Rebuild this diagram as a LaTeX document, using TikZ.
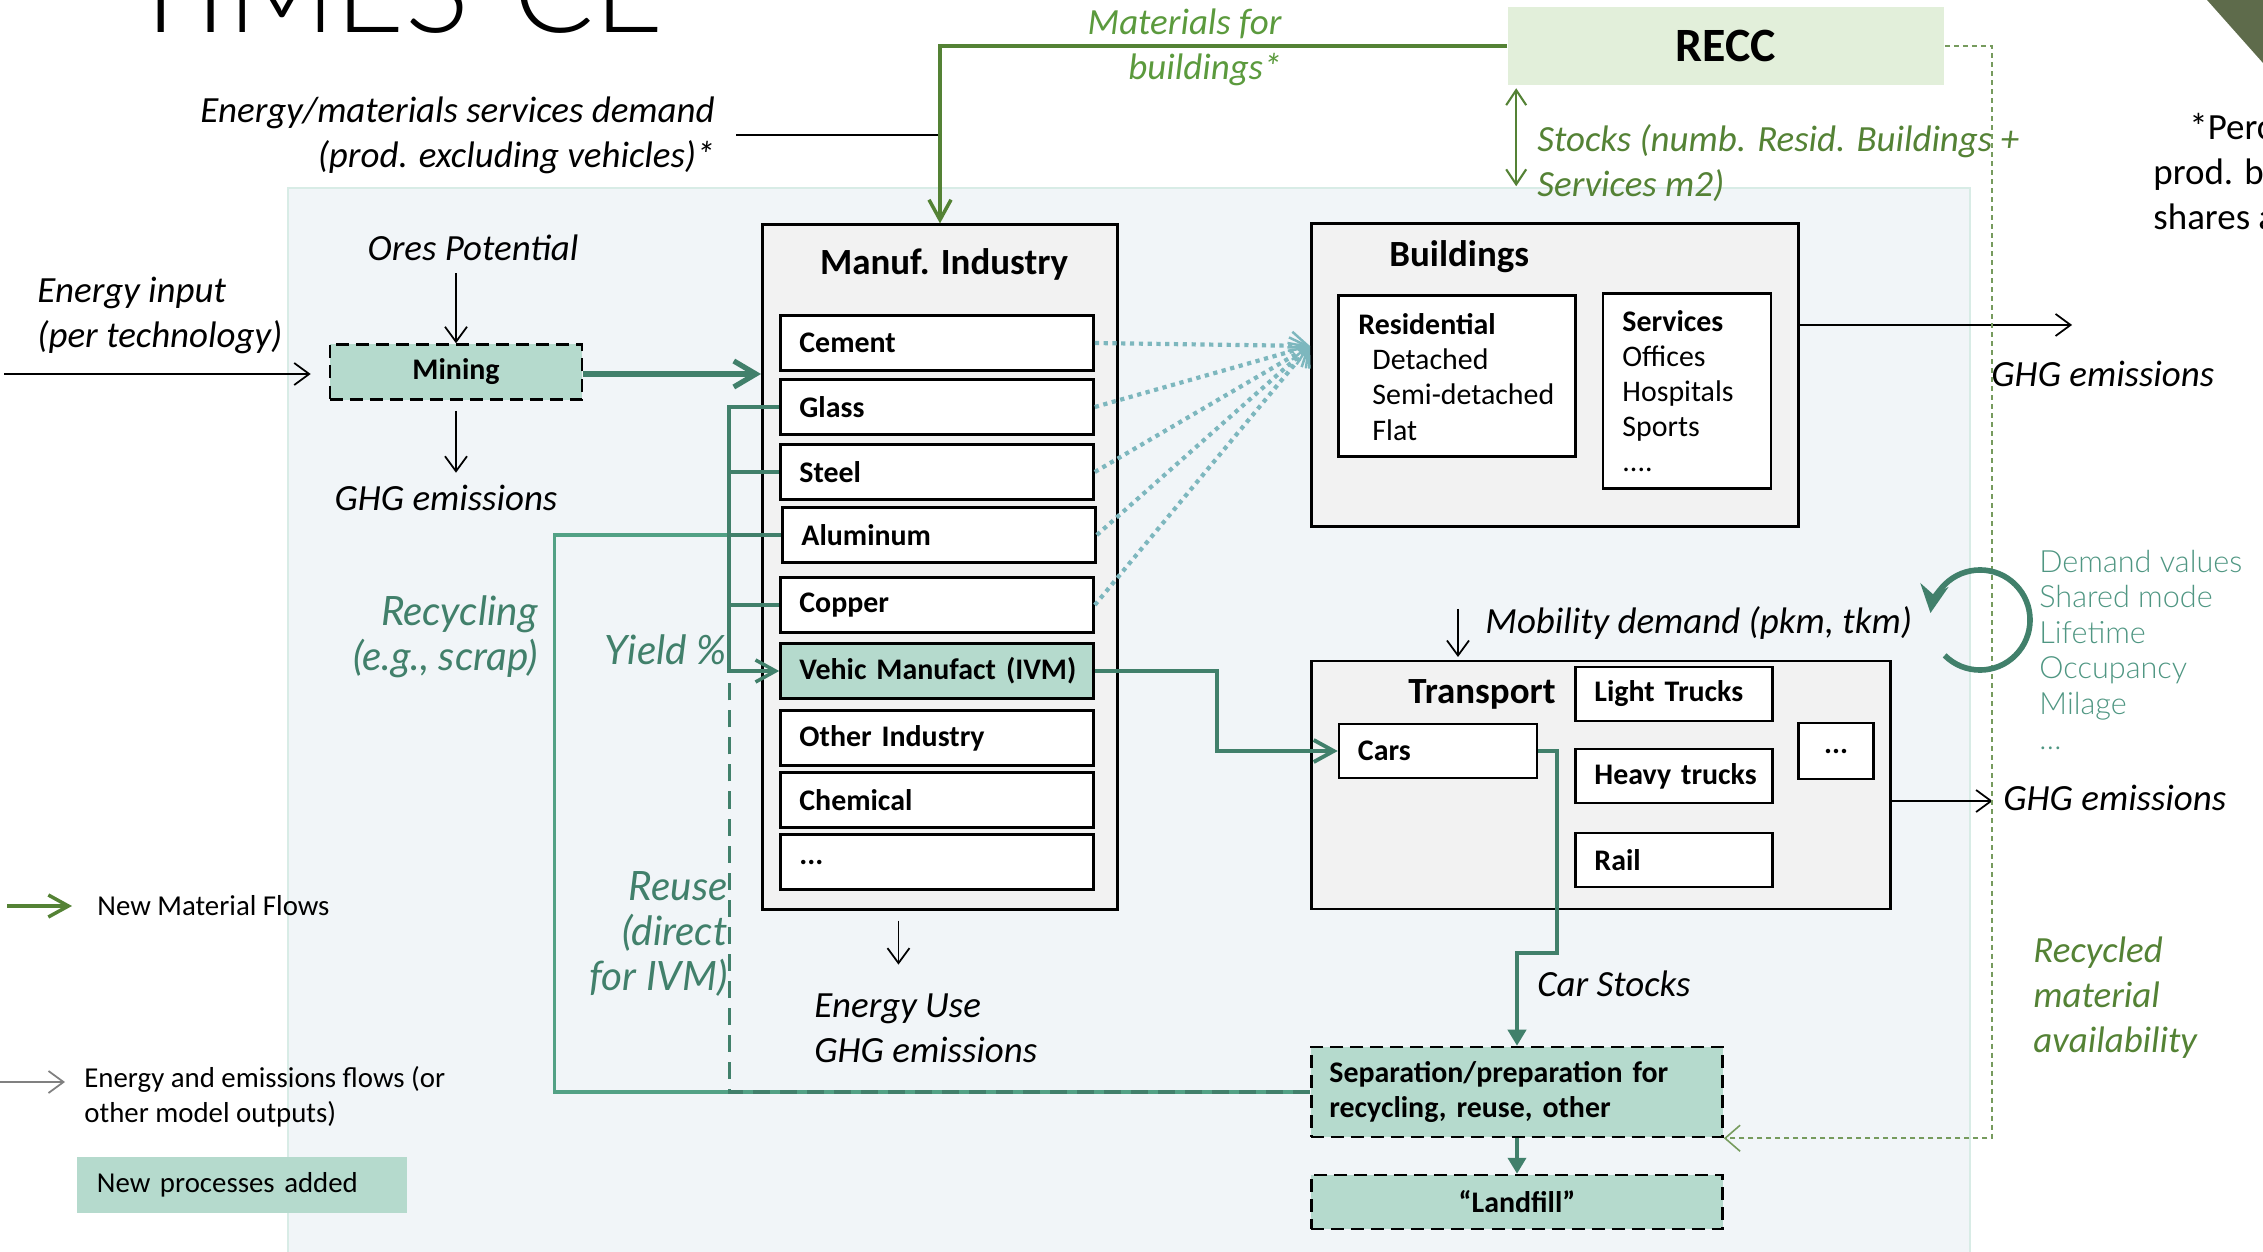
\documentclass[tikz,border=0pt]{standalone}
\usepackage{fontspec}
\setmainfont{Carlito}
\newfontfamily\lightfont{Lato Light}
\newfontfamily\humanfont{Lato}
\usetikzlibrary{arrows.meta,positioning}

\definecolor{panelblue}{HTML}{F1F5F8}
\definecolor{panelline}{HTML}{D8ECE6}
\definecolor{boxgrey}{HTML}{F2F2F2}
\definecolor{newproc}{HTML}{B5DACD}
\definecolor{tealline}{HTML}{41806B}
\definecolor{recteal}{HTML}{52A185}
\definecolor{matgreen}{HTML}{548235}
\definecolor{txtgreen}{HTML}{5B9A3D}
\definecolor{dotteal}{HTML}{7DB7BE}
\definecolor{reccgreen}{HTML}{E2EFDA}
\definecolor{cornergreen}{HTML}{5E6B4B}
\definecolor{paramteal}{HTML}{4F9682}

\newcommand{\annofont}{\itshape\fontsize{10.5}{12.8}\selectfont}
\newcommand{\itemfont}{\bfseries\fontsize{8.5}{10}\selectfont}
\newcommand{\listfont}{\fontsize{8.5}{10}\selectfont}
\newcommand{\headfont}{\bfseries\fontsize{10.5}{12}\selectfont}
\newcommand{\reccfont}{\bfseries\fontsize{13.6}{15}\selectfont}
\newcommand{\legfont}{\fontsize{8.2}{10}\selectfont}
\newcommand{\flowfont}{\humanfont\itshape\fontsize{11.5}{12.8}\selectfont}
\newcommand{\paramfont}{\lightfont\fontsize{8.7}{10.1}\selectfont}
\newcommand{\bigtitlefont}{\lightfont\fontsize{34}{34}\selectfont}

\tikzset{
  bigbox/.style={draw, fill=boxgrey, line width=0.8pt},
  itembox/.style={draw, fill=white, line width=0.7pt, minimum height=0.55cm,
    inner xsep=0.19cm, align=left, font=\itemfont},
  newbox/.style={draw, fill=newproc, line width=0.7pt,
    dash pattern=on 1.3mm off 0.7mm, font=\itemfont},
  anno/.style={font=\annofont},
  thinflow/.style={line width=0.5pt, -{Straight Barb[length=1.5mm,width=2.2mm]}},
  mineflow/.style={draw=tealline, line width=1.5pt, -{Straight Barb[length=2.2mm,width=2.6mm]}},
  tealflow/.style={draw=tealline, line width=1.1pt, -{Straight Barb[length=2mm,width=2.2mm]}},
  fillflow/.style={draw=tealline, line width=1.1pt, -{Triangle[length=1.6mm,width=1.8mm]}},
  yieldline/.style={draw=tealline, line width=1pt},
  recline/.style={draw=recteal, line width=0.9pt},
  reuseline/.style={draw=tealline, line width=0.9pt, dash pattern=on 1.7mm off 1mm},
  matflow/.style={draw=matgreen, line width=1pt, -{Straight Barb[length=2mm,width=2.2mm]}},
  stockflow/.style={draw=matgreen, line width=0.6pt,
    {Straight Barb[length=1.5mm,width=2mm]}-{Straight Barb[length=1.5mm,width=2mm]}},
  recdash/.style={draw=matgreen!80, line width=0.45pt, dash pattern=on 0.5mm off 0.4mm,
    -{Straight Barb[length=1.5mm,width=2.6mm]}},
  dotflow/.style={draw=dotteal, line width=1.2pt, dash pattern=on 1.2pt off 1.3pt,
    -{Straight Barb[length=1.6mm,width=2.8mm,line width=0.7pt]}}
}

\begin{document}
\begin{tikzpicture}[x=0.01cm,y=-0.01cm]
\useasboundingbox (0,0) rectangle (2263,1252);

% title and corner
\node[font=\bigtitlefont, anchor=base west, inner sep=0pt] (title) at (126,33) {TIMES-CE};
\fill[cornergreen] (2207,0) -- (2263,0) -- (2263,63) -- cycle;

% model panel
\draw[panelline, fill=panelblue, line width=0.8pt] (288,188) rectangle (1970,1265);

% RECC
\node[fill=reccgreen, minimum width=4.36cm, minimum height=0.77cm, font=\reccfont] (recc) at (1726,46) {RECC};
\node[anno, text=txtgreen, anchor=east, align=right] (matbld) at (1294,47) {Materials for\\buildings*};
\node[anno, text=matgreen, anchor=west, align=left] (stocks) at (1525,163) {Stocks (numb. Resid. Buildings +\\Services m2)};
\node[font=\fontsize{10.5}{12.8}\selectfont, anchor=west, align=left] (note) at (2141,172) {\hspace*{0.36cm}*Percentage of\\prod. by sector\\shares and};

% demand texts
\node[anno, anchor=east, align=right] (demand) at (727,135) {Energy/materials services demand\\(prod. excluding vehicles)*};
\node[anno, anchor=west, align=left] (einput) at (25,315) {Energy input\\(per technology)};
\node[anno] (ores) at (473,248) {Ores Potential};

% mining
\node[newbox, minimum width=2.52cm, minimum height=0.55cm] (mining) at (456,372) {Mining};
\node[anno] (ghgmine) at (446,498) {GHG emissions};

% manufacturing industry
\node[bigbox, minimum width=3.55cm, minimum height=6.84cm] (manuf) at (940,567) {};
\node[font=\headfont] (manuftitle) at (944,264) {Manuf. Industry};
\node[itembox, text width=2.75cm] (cement) at (937,343) {Cement};
\node[itembox, text width=2.75cm] (glass) at (937,407) {Glass};
\node[itembox, text width=2.75cm] (steel) at (937,472) {Steel};
\node[itembox, text width=2.75cm] (alum) at (939,535) {Aluminum};
\node[itembox, text width=2.75cm] (copper) at (937,605) {Copper};
\node[itembox, text width=2.75cm, fill=newproc] (ivm) at (937,671) {\mbox{Vehic Manufact (IVM)}};
\node[itembox, text width=2.75cm] (other) at (937,738) {Other Industry};
\node[itembox, text width=2.75cm] (chem) at (937,800) {Chemical};
\node[itembox, text width=2.75cm] (mdots) at (937,862) {...};
\node[anno, anchor=west, align=left] (euse) at (802,1028) {Energy Use\\GHG emissions};

% buildings
\node[bigbox, minimum width=4.87cm, minimum height=3.03cm] (bldg) at (1555,375) {};
\node[font=\headfont, anchor=west] (bldgtitle) at (1377,257) {Buildings};
\node[itembox, minimum width=2.37cm, minimum height=1.61cm] (resid) at (1457,376) {};
\node[font=\listfont, anchor=west, align=left] (residlist) at (1346,377) {\textbf{Residential}\\\hspace*{0.14cm}Detached\\\hspace*{0.14cm}Semi-detached\\\hspace*{0.14cm}Flat};
\node[itembox, minimum width=1.68cm, minimum height=1.95cm] (serv) at (1687,391) {};
\node[font=\listfont, anchor=west, align=left] (servlist) at (1610,391) {\textbf{Services}\\Offices\\Hospitals\\Sports\\....};
\node[anno, anchor=west] (ghgbldg) at (1979,374) {GHG emissions};

% transport
\node[anno, anchor=west] (mob) at (1473,623) {Mobility demand (pkm, tkm)};
\node[bigbox, minimum width=5.78cm, minimum height=2.48cm] (trans) at (1601,785) {};
\node[font=\headfont] (transtitle) at (1482,694) {Transport};
\node[itembox, text width=1.6cm, minimum height=0.54cm] (cars) at (1438,751) {Cars};
\node[itembox, text width=1.59cm, minimum height=0.54cm] (light) at (1674,694) {\mbox{Light Trucks}};
\node[itembox, text width=1.59cm, minimum height=0.54cm] (heavy) at (1674,776) {\mbox{Heavy trucks}};
\node[itembox, text width=1.59cm, minimum height=0.54cm] (rail) at (1674,860) {Rail};
\node[itembox, align=center, minimum width=0.75cm, minimum height=0.56cm, inner xsep=0pt] (tdots) at (1836,751) {...};
\node[anno, anchor=west] (ghgtrans) at (1991,798) {GHG emissions};
\node[anno, anchor=west] (carstocks) at (1525,984) {Car Stocks};
\node[font=\paramfont, text=paramteal, anchor=west, align=left] (params) at (2027,650) {Demand values\\Shared mode\\Lifetime\\Occupancy\\Milage\\\ldots};

% end of life
\node[newbox, minimum width=4.11cm, minimum height=0.9cm, text width=3.75cm, inner xsep=0.18cm, align=left] (sep) at (1517,1092) {Separation/preparation for\\recycling, reuse, other};
\node[newbox, minimum width=4.11cm, minimum height=0.54cm] (landfill) at (1517,1202) {“Landfill”};
\node[anno, text=matgreen, anchor=west, align=left] (recavail) at (2021,998) {Recycled\\material\\availability};

% flow labels
\node[font=\flowfont, text=tealline, anchor=east, align=right] (recyc) at (550,637) {Recycling\\(e.g., scrap)};
\node[font=\flowfont, text=tealline, anchor=east] (yield) at (739,650) {Yield \%};
\node[font=\flowfont, text=tealline, anchor=east, align=right] (reuse) at (740,934) {Reuse\\(direct\\for IVM)};

% legend
\coordinate (legmat) at (7,906);
\coordinate (legen) at (0,1082);
\node[font=\legfont, anchor=west] (legmattxt) at (85,906) {New Material Flows};
\node[font=\legfont, anchor=west, align=left] (legentxt) at (72,1097) {Energy and emissions flows (or\\other model outputs)};
\node[fill=newproc, minimum width=3.3cm, minimum height=0.55cm, text width=2.9cm, inner xsep=0.2cm, align=left, font=\legfont] (legbox) at (242,1185) {New processes added};
\draw[matflow] (legmat) -- ++(65,0);
\draw[thinflow, draw=gray] (legen) -- ++(65,0);

% black energy / emission flows
\coordinate (einstart) at (4,374);
\draw[thinflow, shorten >=0.18cm] (einstart) -- (mining.west |- einstart);
\draw[thinflow] (ores.south -| mining.north) -- (mining.north);
\draw[thinflow, shorten <=0.1cm] (mining.south) -- (mining.south |- ghgmine.north);
\draw[thinflow, shorten <=0.1cm] ([xshift=-0.415cm]manuf.south) -- ++(0,54);
\draw[thinflow] ([yshift=0.5cm]bldg.east) -- ++(272,0);
\draw[thinflow] ([xshift=-0.15cm,yshift=0.14cm]mob.west) -- ++(0,48);
\draw[thinflow] ([yshift=-0.16cm]trans.east) -- ++(101,0);
\draw[line width=0.5pt] ([xshift=0.09cm]demand.east) -- (demand.east -| manuf.north);

% RECC links
\draw[matflow] (recc.west) -| (manuf.north);
\draw[stockflow] ([xshift=0.09cm,yshift=-0.03cm]recc.south west) -- ++(0,98);
\draw[recdash] (recc.east) -- ++(47,0) |- (sep.south east);

% material flows
\draw[mineflow] (mining.east |- einstart) -- (manuf.west |- einstart);
\coordinate (bldgin) at (1310,346);
\draw[dotflow] (cement.east) -- (bldgin);
\draw[dotflow] (glass.east) -- (bldgin);
\draw[dotflow] (steel.east) -- (bldgin);
\draw[dotflow] (alum.east) -- (bldgin);
\draw[dotflow] (copper.east) -- (bldgin);
\draw[recline] (sep.west) -- ++(-756,0) |- (alum.west);
\draw[reuseline] (sep.west) -| ([xshift=-0.5cm,yshift=-0.06cm]ivm.west);
\draw[yieldline] (steel.west) -- ++(-50,0);
\draw[yieldline] (alum.west) -- ++(-50,0);
\draw[yieldline] (copper.west) -- ++(-50,0);
\draw[yieldline, -{Straight Barb[length=2mm,width=2.2mm]}] (glass.west) -- ++(-50,0) |- (ivm.west);
\draw[tealflow] (ivm.east) -- ++(122,0) |- (cars.west);
\draw[fillflow] (cars.east) -- ++(19,0) -- ++(0,202) -| (sep.north);
\draw[fillflow] (sep.south) -- (landfill.north);

% parameter loop
\draw[tealline, line width=1.6pt, -{Stealth[length=2.8mm,width=2.8mm]}] (1980,620) ++(225:0.5cm) arc[start angle=225, end angle=532, radius=0.5cm];
\end{tikzpicture}
\end{document}
